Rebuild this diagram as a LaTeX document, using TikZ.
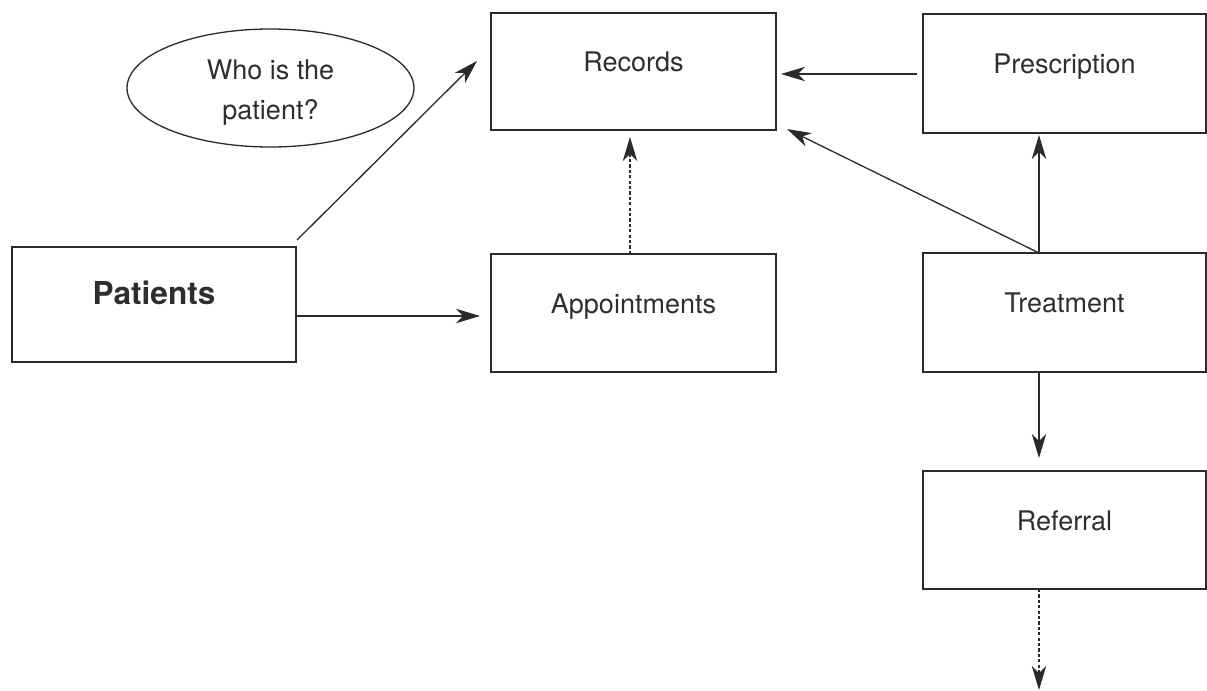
\documentclass[tikz,border=0pt]{standalone}
\usepackage{fontspec}
\setmainfont{TeX Gyre Heros}
\usetikzlibrary{arrows.meta,shapes.geometric,calc}
\definecolor{linecol}{HTML}{2A2A2A}
\definecolor{txtcol}{HTML}{2E2E2E}
\begin{document}
\begin{tikzpicture}[x=0.5pt,y=-0.5pt,
  box/.style={draw=linecol, line width=0.7pt, rectangle, inner sep=0pt, outer sep=0pt,
    text=txtcol, font=\fontsize{13.5}{16}\selectfont, text height=8pt, text depth=8pt},
  conn/.style={draw=linecol, line width=0.65pt, -{Stealth[length=12pt,width=7.2pt,inset=3.5pt]}},
  dconn/.style={conn, dash pattern=on 1.6pt off 1.1pt}
]
\useasboundingbox (0,0) rectangle (1207,691);

\node[box, minimum width=142.5pt, minimum height=58.5pt] (rec) at (633.5,71.5) {Records};
\node[box, minimum width=141.5pt, minimum height=59.5pt] (pre) at (1064.5,73.5) {Prescription};
\node[box, minimum width=142.5pt, minimum height=59pt] (app) at (633.5,313) {Appointments};
\node[box, minimum width=141.5pt, minimum height=59.5pt] (tre) at (1064.5,312.5) {Treatment};
\node[box, minimum width=141.5pt, minimum height=59pt] (ref) at (1064.5,530) {Referral};
\node[box, minimum width=142pt, minimum height=57.5pt, font=\fontsize{15.8}{19}\selectfont\bfseries] (pat) at (154,304.5) {Patients};
\node[ellipse, draw=linecol, line width=0.65pt, minimum width=143.5pt, minimum height=59pt, inner sep=0pt] (q) at (270.5,88) {};
\node[align=center, text=txtcol, font=\fontsize{13.5}{20}\selectfont, inner sep=0pt] (qt) at (270.5,93) {Who is the\\patient?};

\coordinate (a1s) at ($(pat.north east)+(1,-7)$);
\coordinate (a1e) at ($(rec.west)+(-14,-10.5)$);
\coordinate (a2s) at ($(pat.east)+(0,11.5)$);
\coordinate (a2e) at ($(app.west)+(-11,3)$);
\coordinate (a3s) at ($(app.north)+(-3.5,0)$);
\coordinate (a3e) at ($(rec.south)+(-3.5,7)$);
\coordinate (a4s) at ($(pre.west)+(-6,0.5)$);
\coordinate (a4e) at ($(rec.east)+(5,2.5)$);
\coordinate (a5s) at ($(tre.north)+(-25.5,0)$);
\coordinate (a5e) at ($(rec.south east)+(11,-1)$);
\coordinate (a6e) at ($(pre.south)+(-25.5,2)$);
\coordinate (a7s) at ($(tre.south)+(-25.5,0)$);
\coordinate (a7e) at ($(ref.north)+(-25.5,-13)$);
\coordinate (a8s) at ($(ref.south)+(-25.5,0)$);
\coordinate (a8e) at ($(ref.south)+(-25.5,101)$);

\draw[conn] (a1s) -- (a1e);
\draw[conn] (a2s) -- (a2e);
\draw[dconn] (a3s) -- (a3e);
\draw[conn] (a4s) -- (a4e);
\draw[conn] (a5s) -- (a5e);
\draw[conn] (a5s) -- (a6e);
\draw[conn] (a7s) -- (a7e);
\draw[dconn] (a8s) -- (a8e);
\end{tikzpicture}
\end{document}
